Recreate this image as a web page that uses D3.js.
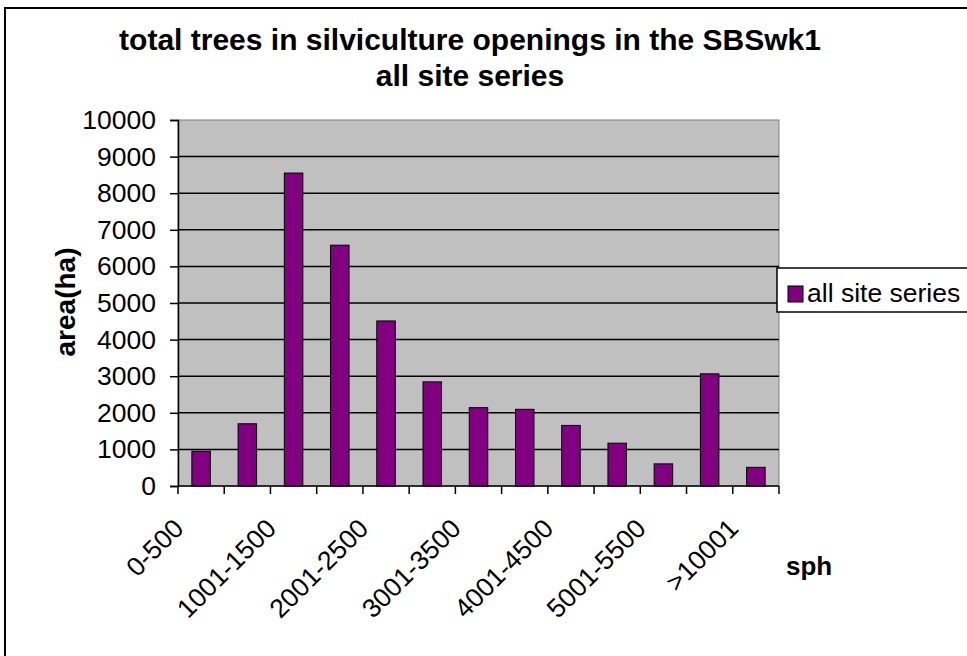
<!DOCTYPE html>
<html>
<head>
<meta charset="utf-8">
<script src="https://cdn.jsdelivr.net/npm/d3@7"></script>
<style>
  body { margin: 0; background: #fff; }
  text { font-family: "Liberation Sans", Arial, sans-serif; fill: #000; }
</style>
</head>
<body>
<svg id="chart" width="967" height="656"></svg>
<script>
// data
var categories = ['0-500', '501-1000', '1001-1500', '1501-2000', '2001-2500', '2501-3000',
  '3001-3500', '3501-4000', '4001-4500', '4501-5000', '5001-5500', '5501-10000', '>10001'];
var areaHa = [950, 1700, 8550, 6580, 4510, 2845, 2140, 2095, 1655, 1170, 605, 3065, 510];
var yTicks = [0, 1000, 2000, 3000, 4000, 5000, 6000, 7000, 8000, 9000, 10000];
var seriesName = 'all site series';

var svg = d3.select('#chart');

// outer chart border
svg.append('rect')
  .attr('x', 5).attr('y', 8).attr('width', 975).attr('height', 660)
  .attr('fill', '#fff').attr('stroke', '#000').attr('stroke-width', 2);

var plot = { left: 178, right: 779, top: 120, bottom: 486 };

var x = d3.scaleBand().domain(categories).range([plot.left, plot.right]);
var y = d3.scaleLinear().domain([0, 10000]).range([plot.bottom, plot.top]);

// plot background
svg.append('rect')
  .attr('x', plot.left).attr('y', plot.top)
  .attr('width', plot.right - plot.left).attr('height', plot.bottom - plot.top)
  .attr('fill', '#c0c0c0').attr('stroke', '#808080').attr('stroke-width', 1);

// gridlines
svg.append('g').selectAll('line')
  .data(yTicks.filter(function(d) { return d > 0 && d < 10000; }))
  .enter().append('line')
  .attr('x1', plot.left).attr('x2', plot.right)
  .attr('y1', function(d) { return y(d); }).attr('y2', function(d) { return y(d); })
  .attr('stroke', '#000').attr('stroke-width', 1.5);

// bars
var bw = x.bandwidth() * 0.4;
svg.append('g').selectAll('rect')
  .data(areaHa)
  .enter().append('rect')
  .attr('x', function(d, i) { return x(categories[i]) + (x.bandwidth() - bw) / 2; })
  .attr('y', function(d) { return y(d); })
  .attr('width', bw)
  .attr('height', function(d) { return plot.bottom - y(d); })
  .attr('fill', '#800080').attr('stroke', '#000').attr('stroke-width', 1);

// y axis
var yAxis = svg.append('g')
  .attr('transform', 'translate(' + plot.left + ',0)')
  .call(d3.axisLeft(y).tickValues(yTicks).tickSize(8).tickPadding(14).tickFormat(d3.format('d')));
yAxis.select('.domain').attr('stroke', '#000').attr('stroke-width', 1.5);
yAxis.selectAll('.tick line').attr('stroke', '#000').attr('stroke-width', 1.5);
yAxis.selectAll('.tick text').attr('font-size', 26.5).attr('font-family', '"Liberation Sans", Arial, sans-serif');

// x axis with ticks at category boundaries
var xAxisG = svg.append('g').attr('transform', 'translate(0,' + plot.bottom + ')');
xAxisG.append('line').attr('x1', plot.left).attr('x2', plot.right)
  .attr('stroke', '#000').attr('stroke-width', 1.5);
var bounds = categories.map(function(c) { return x(c); }).concat([plot.right]);
xAxisG.selectAll('line.tk').data(bounds).enter().append('line').attr('class', 'tk')
  .attr('x1', function(d) { return d; }).attr('x2', function(d) { return d; })
  .attr('y1', 0).attr('y2', 8).attr('stroke', '#000').attr('stroke-width', 1.5);
xAxisG.selectAll('text').data(categories.filter(function(c, i) { return i % 2 === 0; }))
  .enter().append('text')
  .attr('transform', function(d) {
    return 'translate(' + (x(d) + x.bandwidth() / 2 - 16) + ',44) rotate(-45)';
  })
  .attr('text-anchor', 'end')
  .attr('font-size', 26.5)
  .text(function(d) { return d; });

// titles
svg.append('text').attr('x', 470).attr('y', 50).attr('text-anchor', 'middle')
  .attr('font-size', 30).attr('font-weight', 'bold')
  .text('total trees in silviculture openings in the SBSwk1');
svg.append('text').attr('x', 470).attr('y', 86).attr('text-anchor', 'middle')
  .attr('font-size', 30).attr('font-weight', 'bold')
  .text('all site series');

svg.append('text')
  .attr('transform', 'translate(75,302) rotate(-90)')
  .attr('text-anchor', 'middle').attr('font-size', 28).attr('font-weight', 'bold')
  .text('area(ha)');
svg.append('text').attr('x', 786).attr('y', 575)
  .attr('font-size', 26).attr('font-weight', 'bold').text('sph');

// legend
var lg = svg.append('g');
lg.append('rect').attr('x', 777).attr('y', 268).attr('width', 200).attr('height', 44)
  .attr('fill', '#fff').attr('stroke', '#000').attr('stroke-width', 1.5);
lg.append('rect').attr('x', 788).attr('y', 286).attr('width', 15).attr('height', 16)
  .attr('fill', '#800080').attr('stroke', '#000').attr('stroke-width', 1);
lg.append('text').attr('x', 807).attr('y', 302).attr('font-size', 26.5).text(seriesName);
</script>
</body>
</html>
